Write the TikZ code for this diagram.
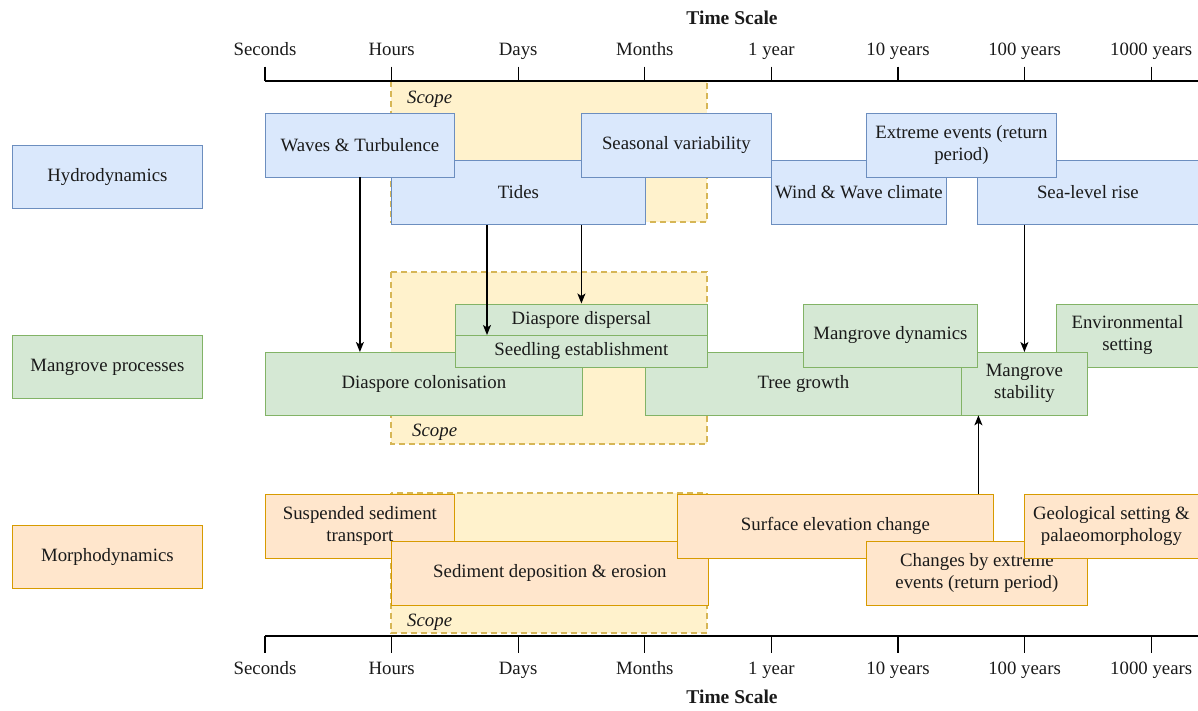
\documentclass[tikz,border=0pt]{standalone}
\usepackage{fontspec}
\setmainfont{Liberation Serif}
\usetikzlibrary{arrows.meta}
\definecolor{bfill}{HTML}{DAE8FC}\definecolor{bdraw}{HTML}{6C8EBF}
\definecolor{gfill}{HTML}{D5E8D4}\definecolor{gdraw}{HTML}{82B366}
\definecolor{ofill}{HTML}{FFE6CC}\definecolor{odraw}{HTML}{D79B00}
\definecolor{yfill}{HTML}{FFF2CC}\definecolor{ydraw}{HTML}{D6B656}
\definecolor{txt}{HTML}{1A1A1A}
\begin{document}
\begin{tikzpicture}[x=1pt,y=-1pt,font=\fontsize{18.8}{22}\selectfont,
  box/.style={draw,rectangle,inner sep=0pt,anchor=north west,align=center,text=txt,line width=0.8pt},
  hbox/.style={box,fill=bfill,draw=bdraw},
  gbox/.style={box,fill=gfill,draw=gdraw},
  obox/.style={box,fill=ofill,draw=odraw},
  scopebox/.style={fill=yfill,draw=ydraw,line width=1.3pt,dash pattern=on 6pt off 4pt},
  scopelabel/.style={anchor=west,font=\fontsize{18.8}{22}\selectfont\itshape,text=txt,inner sep=0pt},
  axis/.style={line width=1.3pt,draw=black},
  arr/.style={-{Stealth[length=10pt,width=8pt,inset=2.5pt]},line width=1.4pt},
  ticklabel/.style={text=txt,inner sep=0pt,anchor=base}]
\useasboundingbox (0,0) rectangle (1198,710);

% scopes
\draw[scopebox] (391,81) rectangle (707,222);
\draw[scopebox] (391,272) rectangle (707,444);
\draw[scopebox] (391,493) rectangle (707,633);
\node[scopelabel] (sc1) at (407,99) {Scope};
\node[scopelabel] (sc2) at (412,432) {Scope};
\node[scopelabel] (sc3) at (407,622) {Scope};

% axes
\node[font=\fontsize{19.5}{22}\selectfont\bfseries,text=txt,anchor=base,inner sep=0pt] (ttop) at (732,24) {Time Scale};
\node[font=\fontsize{19.5}{22}\selectfont\bfseries,text=txt,anchor=base,inner sep=0pt] (tbot) at (732,703) {Time Scale};
\draw[axis] (265,81) -- (1198,81);
\draw[axis] (265,636) -- (1198,636);
\foreach \i/\t in {0/Seconds,1/Hours,2/Days,3/Months,4/1 year,5/10 years,6/100 years,7/1000 years}{
  \pgfmathsetmacro{\xx}{265+126.6*\i}
  \draw[axis] (\xx,66.5) -- (\xx,81);
  \draw[axis] (\xx,636) -- (\xx,653);
  \node[ticklabel] (tl\i) at (\xx,55.5) {\t};
  \node[ticklabel] (bl\i) at (\xx,674.5) {\t};
}

% category labels
\node[hbox,minimum width=190pt,minimum height=63pt] (hydro) at (12,145) {Hydrodynamics};
\node[gbox,minimum width=190pt,minimum height=63pt] (mang) at (12,335) {Mangrove processes};
\node[obox,minimum width=190pt,minimum height=63pt] (morph) at (12,525) {Morphodynamics};

% hydrodynamics
\node[hbox,minimum width=254pt,minimum height=64pt] (tides) at (391,160) {Tides};
\node[hbox,minimum width=175pt,minimum height=64pt] (wind) at (771,160) {Wind \& Wave climate};
\node[hbox,minimum width=221pt,minimum height=64pt] (sea) at (977,160) {Sea-level rise};
\node[hbox,minimum width=189pt,minimum height=63.5pt] (waves) at (265,113) {Waves \& Turbulence};
\node[hbox,minimum width=190pt,minimum height=63.5pt] (seas) at (581,113) {Seasonal variability};
\node[hbox,minimum width=190pt,minimum height=63.5pt] (ext) at (866,113) {Extreme events (return\\period)};

% mangrove processes
\node[gbox,minimum width=317pt,minimum height=62.5pt] (col) at (265,352) {Diaspore colonisation};
\node[gbox,minimum width=316pt,minimum height=62.5pt] (tree) at (645,352) {Tree growth};
\node[gbox,minimum width=142pt,minimum height=63pt] (env) at (1056,303.5) {Environmental\\setting};
\node[gbox,minimum width=126pt,minimum height=62.5pt] (stab) at (961,352) {Mangrove\\stability};
\node[gbox,minimum width=174pt,minimum height=63pt] (dyn) at (803,303.5) {Mangrove dynamics};
\node[gbox,minimum width=252pt,minimum height=31.5pt] (disp) at (455,303.5) {Diaspore dispersal};
\node[gbox,minimum width=252pt,minimum height=31.7pt] (seed) at (455,335) {Seedling establishment};

% morphodynamics
\node[obox,minimum width=189pt,minimum height=64pt] (susp) at (265,493.5) {Suspended sediment\\transport};
\node[obox,minimum width=317pt,minimum height=64pt] (dep) at (391,541) {Sediment deposition \& erosion};
\node[obox,minimum width=316pt,minimum height=64pt] (surf) at (677,493.5) {Surface elevation change};
\node[obox,minimum width=221pt,minimum height=64pt] (chg) at (866,541) {Changes by extreme\\events (return period)};
\node[obox,minimum width=174pt,minimum height=64pt] (geo) at (1024,493.5) {Geological setting \&\\palaeomorphology};

% arrows
\draw[arr] (waves.south) -- (waves.south |- col.north);
\draw[arr] ([xshift=32pt]seed.north west |- tides.south) -- ([xshift=32pt]seed.north west);
\draw[arr] (disp.north |- tides.south) -- (disp.north);
\draw[arr] (stab.north |- sea.south) -- (stab.north);
\draw[arr] ([xshift=-46pt]stab.south |- surf.north) -- ([xshift=-46pt]stab.south);
\end{tikzpicture}
\end{document}
